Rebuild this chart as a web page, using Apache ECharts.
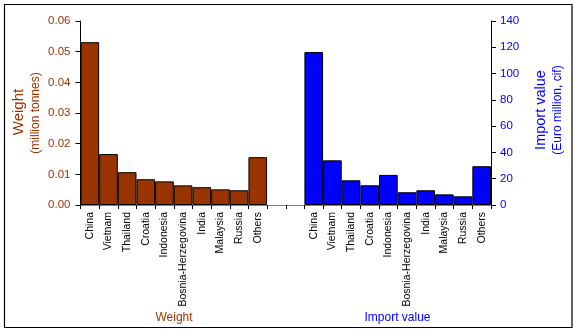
<!DOCTYPE html>
<html><head><meta charset="utf-8">
<script src="https://cdn.jsdelivr.net/npm/echarts@6/dist/echarts.min.js"></script>
<style>html,body{margin:0;padding:0;background:#fff}#c{width:577px;height:332px}</style>
</head><body><div id="c"></div>
<script>
const countries = ['China','Vietnam','Thailand','Croatia','Indonesia','Bosnia-Herzegovina','India','Malaysia','Russia','Others'];
const weightValues = [0.0531, 0.0166, 0.0107, 0.0084, 0.0077, 0.0064, 0.0058, 0.0051, 0.0048, 0.0156];
const importValues = [116.4, 34.0, 18.8, 15.0, 22.9, 9.7, 11.2, 8.1, 6.6, 29.5];
const gapLabels = ['', ' '];
const weightTicks = {min: 0, max: 0.06, interval: 0.01};
const importTicks = {min: 0, max: 140, interval: 20};

const categories = countries.concat(gapLabels).concat(countries);
const nGap = gapLabels.length;
const weightData = weightValues.concat(new Array(nGap + countries.length).fill('-'));
const importData = new Array(countries.length + nGap).fill('-').concat(importValues);

const FONT = 'Liberation Sans, Arial, sans-serif';
const BROWN = '#993300', BLUE = '#0000FF';

const chart = echarts.init(document.getElementById('c'));
chart.setOption({
  animation: false,
  backgroundColor: '#fff',
  textStyle: {fontFamily: FONT},
  grid: {left: 80.5, right: 86, top: 21, bottom: 127, containLabel: false},
  xAxis: [{
    type: 'category', data: categories, position: 'bottom',
    axisLine: {show: true, lineStyle: {color: '#000', width: 1}},
    axisTick: {show: true, length: 4, interval: 0, lineStyle: {color: '#000'}},
    axisLabel: {rotate: 90, interval: 0, color: '#000', fontSize: 10.5, fontFamily: FONT, margin: 7}
  }, {
    type: 'category', data: categories, position: 'top',
    axisLine: {show: true, lineStyle: {color: '#808080', width: 1}},
    axisTick: {show: false}, axisLabel: {show: false}
  }],
  yAxis: [{
    type: 'value', position: 'left', min: weightTicks.min, max: weightTicks.max, interval: weightTicks.interval,
    axisLine: {show: true, lineStyle: {color: '#000'}},
    axisTick: {show: true, length: 5, lineStyle: {color: '#000'}},
    splitLine: {show: false},
    axisLabel: {color: BROWN, fontSize: 11.5, fontFamily: FONT, margin: 10, formatter: v => v.toFixed(2)}
  }, {
    type: 'value', position: 'right', min: importTicks.min, max: importTicks.max, interval: importTicks.interval,
    axisLine: {show: true, lineStyle: {color: '#000'}},
    axisTick: {show: true, length: 5, lineStyle: {color: '#000'}},
    splitLine: {show: false},
    axisLabel: {color: BLUE, fontSize: 11.5, fontFamily: FONT, margin: 9}
  }],
  series: [{
    name: 'Weight', type: 'bar', xAxisIndex: 0, yAxisIndex: 0, data: weightData,
    barGap: '-100%', barCategoryGap: 0,
    itemStyle: {color: BROWN, borderColor: '#000', borderWidth: 1}
  }, {
    name: 'Import value', type: 'bar', xAxisIndex: 0, yAxisIndex: 1, data: importData,
    barGap: '-100%', barCategoryGap: 0,
    itemStyle: {color: BLUE, borderColor: '#000', borderWidth: 1}
  }],
  graphic: [
    {type: 'rect', shape: {x: 4.5, y: 4.5, width: 567.5, height: 323}, style: {fill: 'none', stroke: '#000', lineWidth: 1.2}, z: 100},
    {type: 'text', x: 18.5, y: 112, rotation: Math.PI/2, style: {text: 'Weight', fill: BROWN, font: '15px ' + FONT, textAlign: 'center', textVerticalAlign: 'middle'}},
    {type: 'text', x: 36, y: 113, rotation: Math.PI/2, style: {text: '(million tonnes)', fill: BROWN, font: '12px ' + FONT, textAlign: 'center', textVerticalAlign: 'middle'}},
    {type: 'text', x: 541, y: 110, rotation: Math.PI/2, style: {text: 'Import value', fill: BLUE, font: '14.5px ' + FONT, textAlign: 'center', textVerticalAlign: 'middle'}},
    {type: 'text', x: 558, y: 110, rotation: Math.PI/2, style: {text: '(Euro million, cif)', fill: BLUE, font: '12px ' + FONT, textAlign: 'center', textVerticalAlign: 'middle'}},
    {type: 'text', x: 174, y: 318, style: {text: 'Weight', fill: BROWN, font: '12px ' + FONT, textAlign: 'center', textVerticalAlign: 'middle'}},
    {type: 'text', x: 397.5, y: 318, style: {text: 'Import value', fill: BLUE, font: '12px ' + FONT, textAlign: 'center', textVerticalAlign: 'middle'}}
  ]
});
</script>
</body></html>
